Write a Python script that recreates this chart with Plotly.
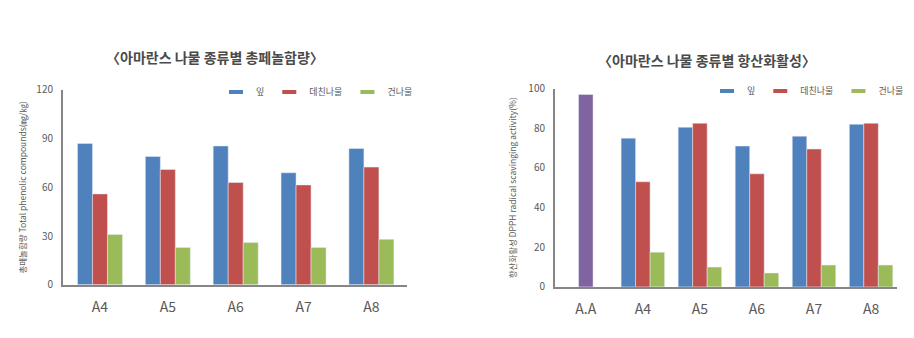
import plotly.graph_objects as go

# ---- data ----
cats_left = ["A4", "A5", "A6", "A7", "A8"]
phenol_leaf = [87, 79, 85.5, 69, 84]
phenol_blanched = [56, 71, 63, 61.5, 72.5]
phenol_dried = [31, 23, 26, 23, 28]

cats_right = ["A.A", "A4", "A5", "A6", "A7", "A8"]
dpph_aa = [97, None, None, None, None, None]
dpph_leaf = [None, 75, 80.5, 71, 76, 82]
dpph_blanched = [None, 53, 82.5, 57, 69.5, 82.5]
dpph_dried = [None, 17.5, 10, 7, 11, 11]

series_names = ["잎", "데친나물", "건나물"]
title_left = "〈아마란스 나물 종류별 총페놀함량〉"
title_right = "〈아마란스 나물 종류별 항산화활성〉"
ytitle_left = "총페놀함량 Total phenolic compounds(㎎/㎏)"
ytitle_right = "항산화활성 DPPH radical scavinging activity(%)"

# ---- style ----
W, H = 914, 338
colors = ["#4F81BD", "#C0504D", "#9BBB59"]
purple = "#8064A2"
FONT = "Noto Sans CJK KR"
GREY = "#595959"
AXIS = "#868686"

fig = go.Figure()

# left chart bars
lw = 0.221
left_offsets = [-1.5 * lw, -0.5 * lw, 0.5 * lw]
for name, vals, col, off in zip(series_names, [phenol_leaf, phenol_blanched, phenol_dried], colors, left_offsets):
    fig.add_trace(go.Bar(x=cats_left, y=vals, name=name, marker_color=col, width=lw, offset=off,
                         showlegend=False, xaxis="x", yaxis="y", hoverinfo="x+y+name"))
    fig.add_trace(go.Scatter(x=[None], y=[None], name=name, mode="markers",
                             marker=dict(symbol="line-ew", size=10, line=dict(color=col, width=4)),
                             xaxis="x", yaxis="y", legend="legend", showlegend=True))

# right chart bars
rw = 0.254
right_offsets = [-1.5 * rw, -0.5 * rw, 0.5 * rw]
fig.add_trace(go.Bar(x=cats_right, y=dpph_aa, name="A.A", marker_color=purple, width=rw, offset=-0.5 * rw,
                     showlegend=False, xaxis="x2", yaxis="y2"))
for name, vals, col, off in zip(series_names, [dpph_leaf, dpph_blanched, dpph_dried], colors, right_offsets):
    fig.add_trace(go.Bar(x=cats_right, y=vals, name=name, marker_color=col, width=rw, offset=off,
                         showlegend=False, xaxis="x2", yaxis="y2"))
    fig.add_trace(go.Scatter(x=[None], y=[None], name=name, mode="markers",
                             marker=dict(symbol="line-ew", size=10, line=dict(color=col, width=4)),
                             xaxis="x2", yaxis="y2", legend="legend2", showlegend=True))

def px_x(p):
    return p / W

def px_y(p):
    return 1 - p / H

axis_common = dict(showgrid=False, zeroline=False, showline=True, linecolor=AXIS, linewidth=2,
                   ticks="", tickfont=dict(family=FONT, size=10, color=GREY), fixedrange=True)

legend_common = dict(orientation="h", bgcolor="rgba(0,0,0,0)", borderwidth=0,
                     font=dict(family=FONT, size=9, color=GREY), yanchor="middle",
                     xanchor="right", tracegroupgap=0, itemclick=False)

fig.update_layout(
    width=W, height=H, margin=dict(l=0, r=0, t=0, b=0),
    paper_bgcolor="white", plot_bgcolor="white", barmode="overlay",
    font=dict(family=FONT, color=GREY),
    xaxis=dict(axis_common, domain=[px_x(63), px_x(406.7)], range=[-0.545, 4.52], anchor="y",
               type="category", tickfont=dict(family=FONT, size=14, color=GREY), ticklabelstandoff=8),
    yaxis=dict(axis_common, domain=[px_y(289.5), px_y(85)], range=[0, 120], dtick=30, anchor="x",
               ticklabelstandoff=6,
               title=dict(text=ytitle_left, font=dict(family=FONT, size=8.5, color=GREY), standoff=8)),
    xaxis2=dict(axis_common, domain=[px_x(555), px_x(897.3)], range=[-0.54, 5.46], anchor="y2",
                type="category", tickfont=dict(family=FONT, size=14, color=GREY), ticklabelstandoff=8),
    yaxis2=dict(axis_common, domain=[px_y(291.7), px_y(83.5)], range=[0, 100], dtick=20, anchor="x2",
                ticklabelstandoff=6,
                title=dict(text=ytitle_right, font=dict(family=FONT, size=8.5, color=GREY), standoff=10)),
    legend=dict(legend_common, x=px_x(418), y=px_y(87)),
    legend2=dict(legend_common, x=px_x(909), y=px_y(86)),
    annotations=[
        dict(text="<b>" + title_left + "</b>", x=px_x(215), y=px_y(50), xref="paper", yref="paper",
             showarrow=False, xanchor="center", yanchor="middle",
             font=dict(family=FONT, size=14, color="#4a4a4a")),
        dict(text="<b>" + title_right + "</b>", x=px_x(707), y=px_y(54), xref="paper", yref="paper",
             showarrow=False, xanchor="center", yanchor="middle",
             font=dict(family=FONT, size=14, color="#4a4a4a")),
    ],
)

fig.write_html("out.html")
